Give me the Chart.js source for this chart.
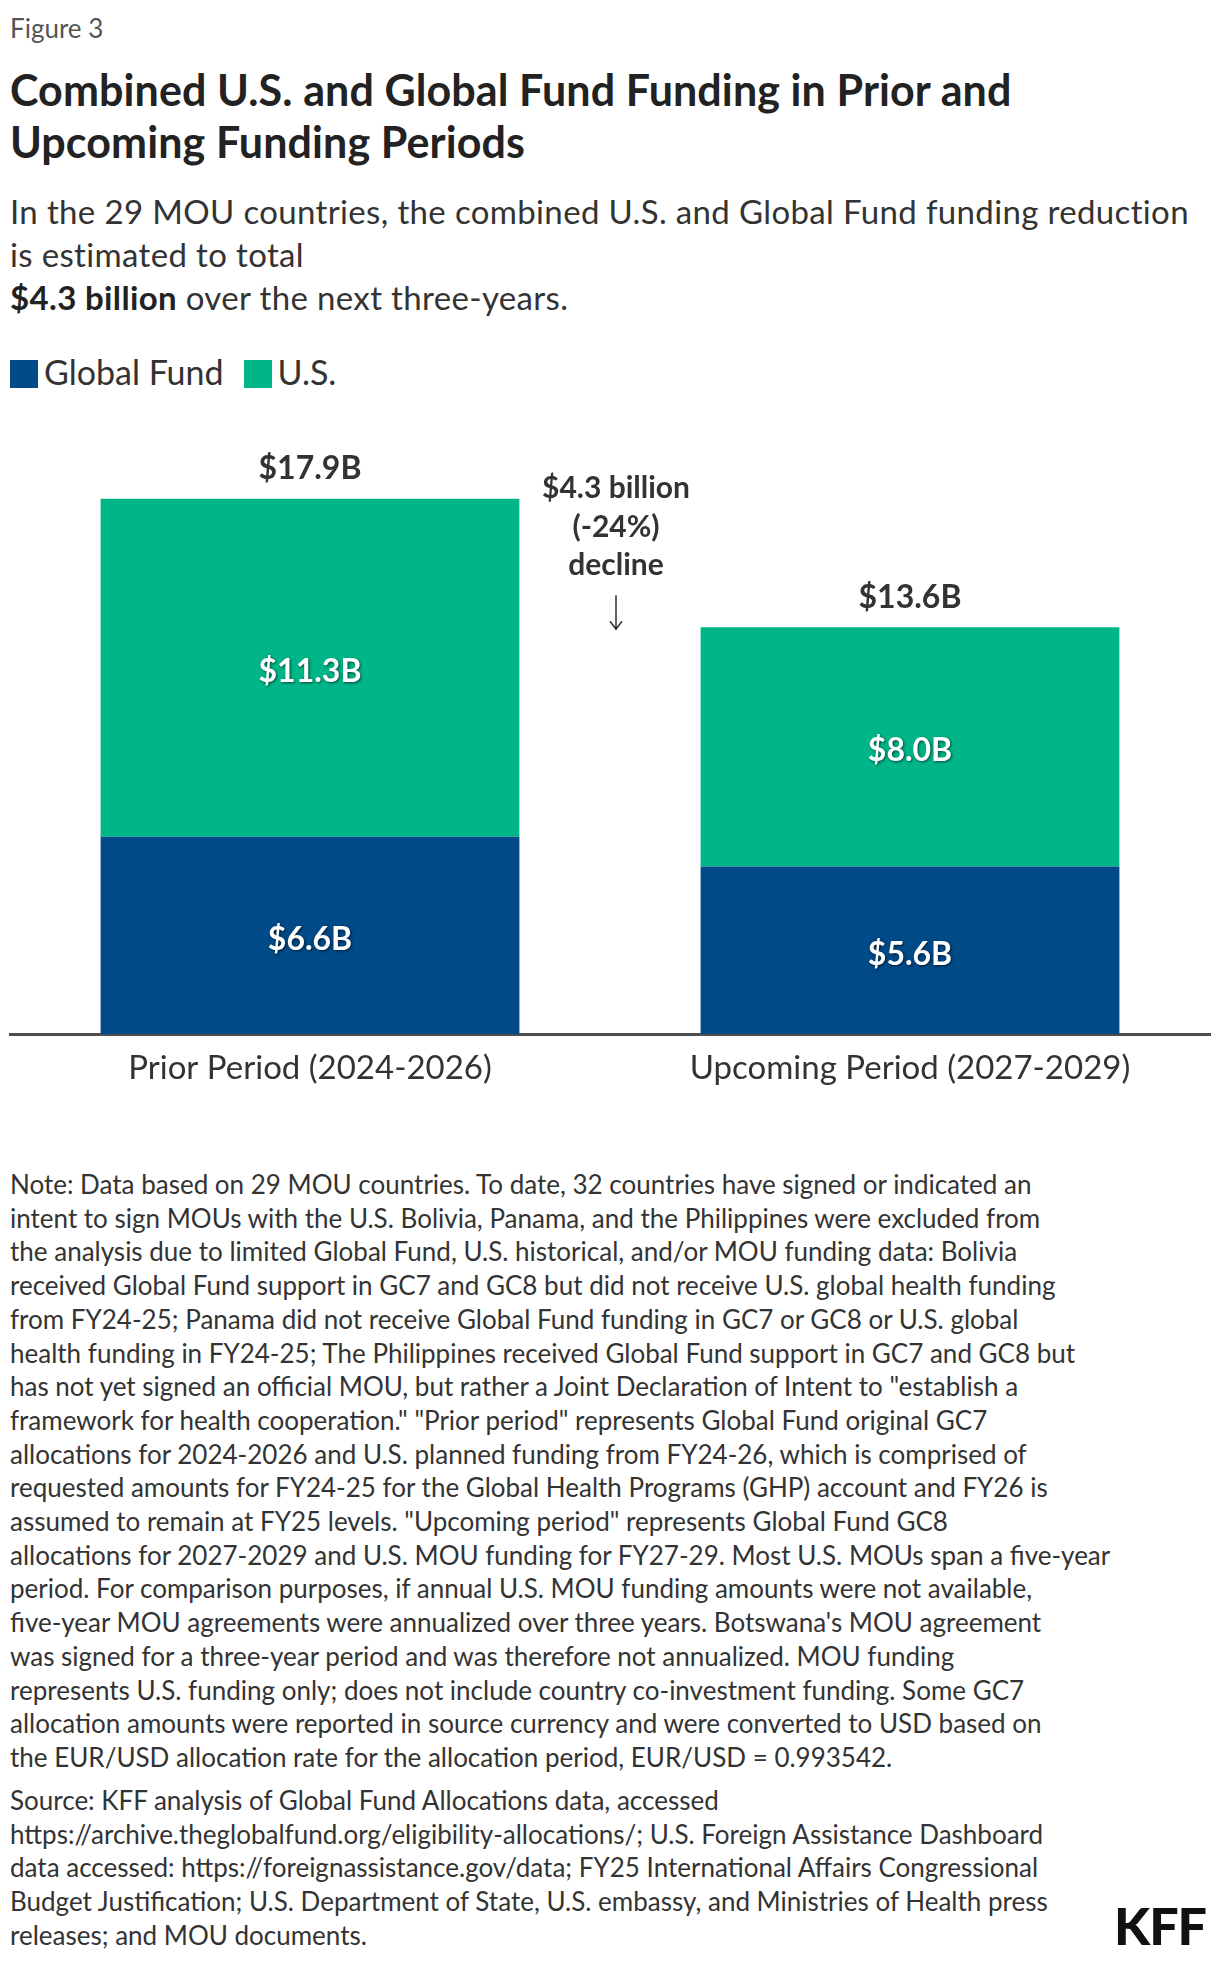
<!DOCTYPE html>
<html>
<head>
<meta charset="utf-8">
<script src="https://cdn.jsdelivr.net/npm/chart.js@4.4.1/dist/chart.umd.min.js"></script>
<style>
  html, body { margin: 0; padding: 0; background: #fff; }
  body { width: 1220px; height: 1962px; position: relative; font-family: Lato, "Open Sans", sans-serif; color: #333; overflow: hidden; }
  .abs { position: absolute; white-space: nowrap; }
  #fig { left: 10px; top: 12px; font-size: 26px; color: #555; }
  #title { left: 10px; top: 64px; font-size: 43px; font-weight: 700; color: #222; line-height: 52px; letter-spacing: 0.1px; }
  #sub { left: 10px; top: 190px; font-size: 33px; line-height: 43px; color: #333; letter-spacing: 0.35px; }
  #sub b { font-weight: 700; color: #222; }
  #legend { left: 10px; top: 355px; font-size: 34px; line-height: 34px; color: #333; }
  #legend span.sw { display: inline-block; width: 28px; height: 28px; vertical-align: -3px; margin-right: 6px; }
  #legend span.it { margin-right: 20px; }
  #wrap { position: absolute; left: 0; top: 400px; width: 1220px; height: 720px; }
  #notes { left: 10px; top: 1168px; font-size: 26px; line-height: 33.7px; color: #333; }
  #source { left: 10px; top: 1784px; font-size: 26px; line-height: 33.7px; color: #333; }
  #kff { left: 1114px; top: 1894px; font-size: 52px; font-weight: 900; color: #111; letter-spacing: -1px; }
</style>
</head>
<body>
<div id="fig" class="abs">Figure 3</div>
<div id="title" class="abs">Combined U.S. and Global Fund Funding in Prior and<br>Upcoming Funding Periods</div>
<div id="sub" class="abs">In the 29 MOU countries, the combined U.S. and Global Fund funding reduction<br>is estimated to total<br><b>$4.3 billion</b> over the next three-years.</div>
<div id="legend" class="abs"></div>
<div id="wrap"><canvas id="c" width="1220" height="720"></canvas></div>
<div id="notes" class="abs">Note: Data based on 29 MOU countries. To date, 32 countries have signed or indicated an<br>intent to sign MOUs with the U.S. Bolivia, Panama, and the Philippines were excluded from<br>the analysis due to limited Global Fund, U.S. historical, and/or MOU funding data: Bolivia<br>received Global Fund support in GC7 and GC8 but did not receive U.S. global health funding<br>from FY24-25; Panama did not receive Global Fund funding in GC7 or GC8 or U.S. global<br>health funding in FY24-25; The Philippines received Global Fund support in GC7 and GC8 but<br>has not yet signed an official MOU, but rather a Joint Declaration of Intent to "establish a<br>framework for health cooperation." "Prior period" represents Global Fund original GC7<br>allocations for 2024-2026 and U.S. planned funding from FY24-26, which is comprised of<br>requested amounts for FY24-25 for the Global Health Programs (GHP) account and FY26 is<br>assumed to remain at FY25 levels. "Upcoming period" represents Global Fund GC8<br>allocations for 2027-2029 and U.S. MOU funding for FY27-29. Most U.S. MOUs span a five-year<br>period. For comparison purposes, if annual U.S. MOU funding amounts were not available,<br>five-year MOU agreements were annualized over three years. Botswana's MOU agreement<br>was signed for a three-year period and was therefore not annualized. MOU funding<br>represents U.S. funding only; does not include country co-investment funding. Some GC7<br>allocation amounts were reported in source currency and were converted to USD based on<br>the EUR/USD allocation rate for the allocation period, EUR/USD = 0.993542.</div>
<div id="source" class="abs">Source: KFF analysis of Global Fund Allocations data, accessed<br>https://archive.theglobalfund.org/eligibility-allocations/; U.S. Foreign Assistance Dashboard<br>data accessed: https://foreignassistance.gov/data; FY25 International Affairs Congressional<br>Budget Justification; U.S. Department of State, U.S. embassy, and Ministries of Health press<br>releases; and MOU documents.</div>
<div id="kff" class="abs">KFF</div>
<script>
// ---- data ----
const categories = ["Prior Period (2024-2026)", "Upcoming Period (2027-2029)"];
const seriesNames = ["Global Fund", "U.S."];
const globalFund = [6.6, 5.6];
const us = [11.3, 8.0];
const totals = [17.9, 13.6];
const annotationLines = ["$4.3 billion", "(-24%)", "decline"];

const colors = ["#004a87", "#00b689"];

// legend (HTML)
const lg = document.getElementById('legend');
seriesNames.forEach((n, i) => {
  const s = document.createElement('span');
  s.className = 'it';
  s.innerHTML = '<span class="sw" style="background:' + colors[i] + '"></span>' + n;
  lg.appendChild(s);
});

const fmt = v => '$' + v.toFixed(1) + 'B';

const labelPlugin = {
  id: 'labels',
  afterDatasetsDraw(chart) {
    const ctx = chart.ctx;
    const xs = chart.scales.x, ys = chart.scales.y;
    ctx.save();
    ctx.textAlign = 'center';
    ctx.textBaseline = 'middle';
    // segment labels
    chart.data.datasets.forEach((ds, di) => {
      const meta = chart.getDatasetMeta(di);
      meta.data.forEach((bar, i) => {
        const p = bar.getProps(['x', 'y', 'base'], true);
        const cy = (p.y + p.base) / 2 + 4;
        ctx.font = '700 32px Lato';
        ctx.fillStyle = '#fff';
        ctx.shadowColor = 'rgba(0,0,0,0.6)';
        ctx.shadowBlur = 3;
        ctx.shadowOffsetX = 1;
        ctx.shadowOffsetY = 1;
        ctx.fillText(fmt(ds.data[i]), p.x, cy);
        ctx.shadowColor = 'transparent';
      });
    });
    ctx.shadowBlur = 0; ctx.shadowOffsetX = 0; ctx.shadowOffsetY = 0;
    // totals
    totals.forEach((t, i) => {
      ctx.font = '700 32px Lato';
      ctx.fillStyle = '#333';
      ctx.fillText(fmt(t), xs.getPixelForValue(i), ys.getPixelForValue(t) - 30);
    });
    // category labels
    categories.forEach((c, i) => {
      ctx.font = '400 33px Lato';
      ctx.fillStyle = '#333';
      ctx.fillText(c, xs.getPixelForValue(i), chart.chartArea.bottom + 34);
    });
    // annotation
    const ax = xs.getPixelForValue(0.5) + 6;
    const ay0 = ys.getPixelForValue(totals[0]) - 10;
    ctx.font = '700 30px Lato';
    ctx.fillStyle = '#333';
    annotationLines.forEach((l, k) => ctx.fillText(l, ax, ay0 + k * 38.5));
    // arrow
    const a1 = ay0 + 3 * 38.5 - 9, a2 = a1 + 34;
    ctx.strokeStyle = '#333';
    ctx.lineWidth = 1.5;
    ctx.beginPath();
    ctx.moveTo(ax, a1); ctx.lineTo(ax, a2);
    ctx.moveTo(ax - 6, a2 - 8); ctx.lineTo(ax, a2); ctx.lineTo(ax + 6, a2 - 8);
    ctx.stroke();
    ctx.restore();
  }
};

new Chart(document.getElementById('c'), {
  type: 'bar',
  data: {
    labels: categories,
    datasets: [
      { label: seriesNames[0], data: globalFund, backgroundColor: colors[0] },
      { label: seriesNames[1], data: us, backgroundColor: colors[1] }
    ]
  },
  options: {
    responsive: false,
    animation: false,
    events: [],
    layout: { padding: { top: 36, bottom: 78, left: 10, right: 10 } },
    datasets: { bar: { barPercentage: 0.698, categoryPercentage: 1.0, borderWidth: 0 } },
    scales: {
      x: { stacked: true, grid: { display: false }, ticks: { display: false },
           border: { display: true, color: '#4d4d4d', width: 3 } },
      y: { stacked: true, display: false, min: 0, max: 20 }
    },
    plugins: { legend: { display: false }, tooltip: { enabled: false } }
  },
  plugins: [labelPlugin]
});
</script>
</body>
</html>
